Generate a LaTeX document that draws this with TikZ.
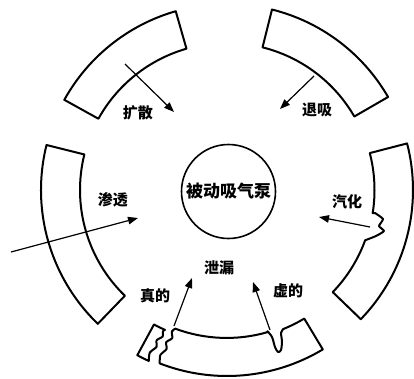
\documentclass[tikz,border=0pt]{standalone}
\usepackage{fontspec}
\newfontfamily\cjk{Noto Sans CJK SC}
\usetikzlibrary{arrows.meta}
\begin{document}
\begin{tikzpicture}[x=1pt,y=1pt,
  seg/.style={line width=2pt, line join=round},
  arr/.style={line width=1.2pt, -{Triangle[length=10pt,width=7.5pt]}},
  lab/.style={font=\cjk\bfseries\fontsize{15pt}{15pt}\selectfont, inner sep=0pt}]
\useasboundingbox (-227,-188) rectangle (187,190);
% top-left segment
\draw[seg] (106:186) arc[start angle=106,end angle=151,radius=186] -- (151:147)
  arc[start angle=151,end angle=106,radius=147] -- cycle;
% top-right segment
\draw[seg] (30:186) arc[start angle=30,end angle=76,radius=186] -- (76:147)
  arc[start angle=76,end angle=30,radius=147] -- cycle;
% left segment
\draw[seg] (166:186) arc[start angle=166,end angle=226,radius=186] -- (226:147)
  arc[start angle=226,end angle=166,radius=147] -- cycle;
% right segment with notch
\draw[seg] (14.5:186) arc[start angle=14.5,end angle=-44,radius=186] -- (-44:147)
  arc[start angle=-44,end angle=-20,radius=147]
  -- plot[smooth,tension=0.3] coordinates {(-20:147) (149,-46) (157,-41) (152,-36) (156,-29) (148,-23)}
  -- (-9:147.5) arc[start angle=-9,end angle=14.5,radius=147.5] -- cycle;
% bottom small broken piece
\draw[seg] (-118.5:188) arc[start angle=-118.5,end angle=-114.6,radius=188]
  -- plot[smooth,tension=0.4] coordinates {(-114.6:188) (-115.4:180) (-114.2:172) (-115.1:166) (-113.7:160) (-114.4:155) (-113.9:153)}
  -- (-113.9:153) arc[start angle=-113.9,end angle=-118.5,radius=153] -- cycle;
% bottom main piece with crack and notch
\draw[seg] (-59:186) arc[start angle=-59,end angle=-111.2,radius=186]
  -- plot[smooth,tension=0.4] coordinates {(-111.2:186) (-112:178) (-110.8:170) (-111.8:164) (-110.3:158) (-111.3:152) (-110.5:148)}
  arc[start angle=-110.5,end angle=-74,radius=147]
  -- plot[smooth,tension=0.5] coordinates {(-74:147) (45,-147) (48,-157) (51,-162) (54,-160) (55,-151) (54,-143) (-68:150)}
  arc[start angle=-68,end angle=-59,radius=150] -- cycle;
% central pump
\node[draw, circle, line width=1.6pt, minimum size=94pt, inner sep=0pt,
  font=\cjk\bfseries\fontsize{17pt}{17pt}\selectfont] (pump) at (1.5,-1.5) {被动吸气泵};
% labels
\node[lab] (kuosan) at (-89,77) {扩散};
\node[lab] (tuixi) at (90,80) {退吸};
\node[lab] (shentou) at (-114,-10) {渗透};
\node[lab] (qihua) at (120,-12) {汽化};
\node[lab] (xielou) at (-8,-78) {泄漏};
\node[lab] (zhende) at (-72,-106) {真的};
\node[lab] (xude) at (61,-101) {虚的};
% arrows
\coordinate (a1s) at (-102,126); \coordinate (a1e) at (-53,78);
\coordinate (a2s) at (87,114);   \coordinate (a2e) at (53,81);
\coordinate (a3s) at (-216,-62); \coordinate (a3e) at (-89,-28);
\coordinate (a4s) at (143,-37);  \coordinate (a4e) at (92,-27);
\coordinate (a5s) at (-53,-136); \coordinate (a5e) at (-35,-88);
\coordinate (a6s) at (43,-140);  \coordinate (a6e) at (26,-92);
\draw[arr] (a1s) -- (a1e);
\draw[arr] (a2s) -- (a2e);
\draw[arr] (a3s) -- (a3e);
\draw[arr] (a4s) -- (a4e);
\draw[arr] (a5s) -- (a5e);
\draw[arr] (a6s) -- (a6e);
\end{tikzpicture}
\end{document}
